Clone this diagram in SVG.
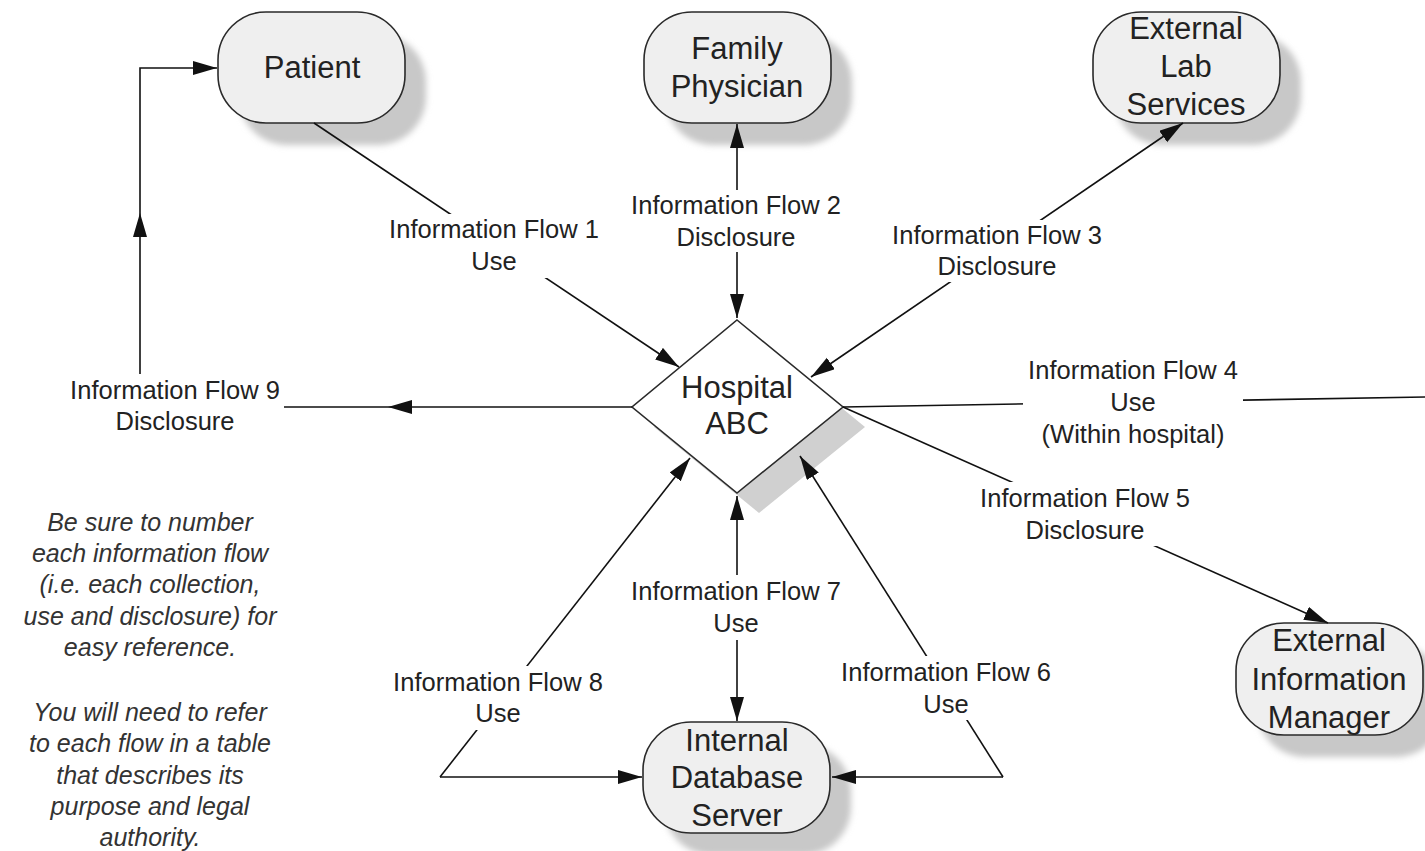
<svg xmlns="http://www.w3.org/2000/svg" width="1425" height="851" viewBox="0 0 1425 851">
<defs>
<style>
.node{fill:#efefef;stroke:#2a2a2a;stroke-width:1.6}
.shadow{fill:#c8c8c8;filter:url(#blur)}
.ntext{font-family:"Liberation Sans",Arial,sans-serif;font-size:31px;fill:#222;text-anchor:middle}
.ltext{font-family:"Liberation Sans",Arial,sans-serif;font-size:25.5px;fill:#222;text-anchor:middle}
.note{font-family:"Liberation Sans",Arial,sans-serif;font-size:25px;font-style:italic;fill:#333;text-anchor:middle}
.conn{fill:none;stroke:#111;stroke-width:1.6}
.arr{marker-end:url(#ah)}
.arr2{marker-end:url(#ah);marker-start:url(#ah)}
.lbg{fill:#fff}
</style>
<filter id="blur" x="-20%" y="-20%" width="140%" height="140%"><feGaussianBlur stdDeviation="3"/></filter>
<marker id="ah" markerUnits="userSpaceOnUse" markerWidth="26" markerHeight="16" refX="24" refY="7" orient="auto-start-reverse"><path d="M0,0 L24,7 L0,14 z" fill="#111"/></marker>
</defs>
<rect width="1425" height="851" fill="#fff"/>

<g id="patient">
<rect class="shadow" x="239" y="34" width="187" height="111" rx="48"/>
<rect class="node" x="218" y="12" width="187" height="111" rx="48"/>
<text class="ntext" x="312" y="78">Patient</text>
</g>
<g id="family-physician">
<rect class="shadow" x="665" y="34" width="187" height="111" rx="48"/>
<rect class="node" x="644" y="12" width="187" height="111" rx="48"/>
<text class="ntext" x="737" y="59">Family</text>
<text class="ntext" x="737" y="97">Physician</text>
</g>
<g id="external-lab">
<rect class="shadow" x="1114" y="34" width="187" height="111" rx="48"/>
<rect class="node" x="1093" y="12" width="187" height="111" rx="48"/>
<text class="ntext" x="1186" y="39">External</text>
<text class="ntext" x="1186" y="77">Lab</text>
<text class="ntext" x="1186" y="115">Services</text>
</g>
<g id="hospital">
<polygon points="759,340 865,427 759,513 654,427" fill="#d0d0d0"/>
<polygon points="737,320 843,407 737,493 632,407" fill="#fff" stroke="#2a2a2a" stroke-width="1.6"/>
<text class="ntext" x="737" y="398">Hospital</text>
<text class="ntext" x="737" y="434">ABC</text>
</g>
<g id="external-info-manager">
<rect class="shadow" x="1257" y="645" width="187" height="112" rx="48"/>
<rect class="node" x="1236" y="623" width="187" height="112" rx="48"/>
<text class="ntext" x="1329" y="651">External</text>
<text class="ntext" x="1329" y="690">Information</text>
<text class="ntext" x="1329" y="728">Manager</text>
</g>
<g id="internal-db">
<rect class="shadow" x="664" y="744" width="187" height="111" rx="48"/>
<rect class="node" x="643" y="722" width="187" height="111" rx="48"/>
<text class="ntext" x="737" y="751">Internal</text>
<text class="ntext" x="737" y="788">Database</text>
<text class="ntext" x="737" y="826">Server</text>
</g>

<g id="connectors">
<path class="conn arr" d="M314,123 L679,367"/>
<path class="conn arr2" d="M737,318 L737,124"/>
<path class="conn arr2" d="M811,377 L1183,123"/>
<path class="conn" d="M843,407 L1425,397"/>
<path class="conn arr" d="M843,407 L1328,623"/>
<path class="conn arr" d="M1003,777 L800,456"/>
<path class="conn arr" d="M1003,777 L832,777"/>
<path class="conn arr2" d="M737,496 L737,721"/>
<path class="conn arr" d="M440,777 L690,458"/>
<path class="conn arr" d="M440,777 L642,777"/>
<path class="conn arr" d="M632,407 L388,407"/>
<path class="conn arr" d="M388,407 L140,407 L140,213"/>
<path class="conn arr" d="M140,213 L140,68 L217,68"/>

<g id="label-1"><rect class="lbg" x="385" y="214" width="218" height="64"/>
<text class="ltext" x="494" y="238">Information Flow 1</text><text class="ltext" x="494" y="270">Use</text></g>
<g id="label-2"><rect class="lbg" x="626" y="190" width="220" height="62"/>
<text class="ltext" x="736" y="214">Information Flow 2</text><text class="ltext" x="736" y="246">Disclosure</text></g>
<g id="label-3"><rect class="lbg" x="887" y="220" width="220" height="62"/>
<text class="ltext" x="997" y="244">Information Flow 3</text><text class="ltext" x="997" y="275">Disclosure</text></g>
<g id="label-4"><rect class="lbg" x="1023" y="354" width="220" height="96"/>
<text class="ltext" x="1133" y="379">Information Flow 4</text><text class="ltext" x="1133" y="411">Use</text><text class="ltext" x="1133" y="443">(Within hospital)</text></g>
<g id="label-5"><rect class="lbg" x="975" y="482" width="220" height="64"/>
<text class="ltext" x="1085" y="507">Information Flow 5</text><text class="ltext" x="1085" y="539">Disclosure</text></g>
<g id="label-6"><rect class="lbg" x="836" y="656" width="220" height="64"/>
<text class="ltext" x="946" y="681">Information Flow 6</text><text class="ltext" x="946" y="713">Use</text></g>
<g id="label-7"><rect class="lbg" x="626" y="575" width="220" height="65"/>
<text class="ltext" x="736" y="600">Information Flow 7</text><text class="ltext" x="736" y="632">Use</text></g>
<g id="label-8"><rect class="lbg" x="388" y="666" width="220" height="64"/>
<text class="ltext" x="498" y="691">Information Flow 8</text><text class="ltext" x="498" y="722">Use</text></g>
<g id="label-9"><rect class="lbg" x="66" y="374" width="218" height="63"/>
<text class="ltext" x="175" y="399">Information Flow 9</text><text class="ltext" x="175" y="430">Disclosure</text></g>
</g>

<g id="note">
<text class="note" x="150" y="531">Be sure to number</text>
<text class="note" x="150" y="562">each information flow</text>
<text class="note" x="150" y="593">(i.e. each collection,</text>
<text class="note" x="150" y="625">use and disclosure) for</text>
<text class="note" x="150" y="656">easy reference.</text>
<text class="note" x="150" y="721">You will need to refer</text>
<text class="note" x="150" y="752">to each flow in a table</text>
<text class="note" x="150" y="784">that describes its</text>
<text class="note" x="150" y="815">purpose and legal</text>
<text class="note" x="150" y="846">authority.</text>
</g>
</svg>
